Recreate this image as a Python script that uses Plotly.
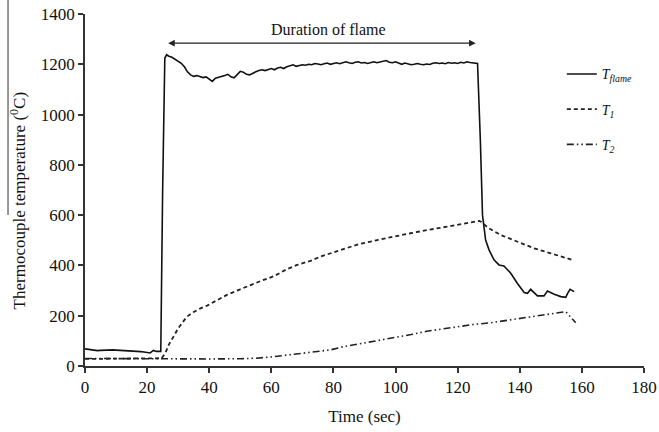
import plotly.graph_objects as go

# ---- data ----
flame_t = [0, 1, 2, 3, 4, 5, 6, 7, 8, 9, 10, 11, 12, 13, 14, 15, 16, 17, 18, 19, 20, 21, 22, 23, 24, 24.4,
           25.0, 25.7, 26.3, 27, 28, 29, 30, 31, 32, 33, 34, 35, 36, 37, 38, 39, 40, 41, 42, 43, 44, 45,
           46, 47, 48, 49, 50, 51, 52, 53, 54, 55, 56, 57, 58, 59, 60, 61, 62, 63, 64, 65, 66, 67, 68, 69,
           70, 71, 72, 73, 74, 75, 76, 77, 78, 79, 80, 81, 82, 83, 84, 85, 86, 87, 88, 89, 90, 91, 92, 93,
           94, 95, 96, 97, 98, 99, 100, 101, 102, 103, 104, 105, 106, 107, 108, 109, 110, 111, 112, 113,
           114, 115, 116, 117, 118, 119, 120, 121, 122, 123, 124, 125, 126, 126.4, 127.3, 128.0, 129.0,
           130.1, 131.7, 133.3, 134.9, 137.1, 139.2, 141.4, 142.5, 143.5, 145.7, 147.8, 148.9, 151.1,
           153.2, 154.8, 155.4, 156.2, 157.5]
flame_v = [68, 66, 65, 62, 61, 62, 63, 62, 63, 64, 63, 62, 60, 59, 58, 58, 57, 58, 57, 56, 54, 52, 62, 58, 58, 58,
           700, 1225, 1238, 1232, 1228, 1220, 1212, 1204, 1190, 1170, 1158, 1152, 1155, 1150, 1147, 1150, 1140,
           1132, 1145, 1148, 1152, 1155, 1160, 1150, 1146, 1160, 1172, 1168, 1160, 1158, 1165, 1170, 1175, 1178,
           1175, 1180, 1183, 1178, 1185, 1188, 1183, 1190, 1195, 1198, 1192, 1195, 1198, 1196, 1200, 1198,
           1203, 1201, 1198, 1202, 1205, 1200, 1203, 1206, 1202, 1205, 1210, 1206, 1203, 1208, 1210, 1205,
           1207, 1203, 1208, 1210, 1206, 1209, 1212, 1215, 1208, 1206, 1210, 1204, 1200, 1205, 1202, 1198,
           1200, 1203, 1200, 1198, 1201, 1199, 1204, 1206, 1203, 1205, 1202, 1207, 1204, 1206, 1203, 1208,
           1205, 1210, 1207, 1205, 1206, 1203, 900, 600, 501, 462, 422, 402, 398, 369, 329, 292, 289, 305,
           279, 279, 298, 285, 276, 273, 289, 305, 296]

t1_t = [0, 10, 20, 24, 24.7, 26, 27, 28.5, 30, 32.8, 35, 37, 39.3, 42, 45.7, 50, 53.2, 57, 60.8, 65, 68.3,
        72.6, 75.8, 80, 83.3, 88, 94.1, 100, 104.8, 110, 115.6, 121, 126.9, 127.5, 130, 133.9, 139, 144.6,
        150, 157]
t1_v = [28, 28, 28, 28, 31, 55, 85, 117, 150, 196, 215, 228, 240, 258, 283, 305, 322, 340, 357, 385, 402,
        418, 435, 452, 468, 484, 501, 517, 528, 540, 552, 563, 577, 574, 548, 521, 495, 468, 448, 422]

t2_t = [0, 10, 20, 24, 30, 40, 50, 55, 60, 65, 70, 75, 79, 83.3, 90, 94, 100, 105, 110, 115, 120, 125,
        130.6, 135, 140.3, 145, 150, 154.8, 158]
t2_v = [30, 29, 28, 28, 28, 28, 29, 31, 36, 43, 50, 57, 64, 77, 92, 100, 112, 125, 138, 148, 157, 165,
        172, 180, 190, 200, 208, 216, 172]

x_ticks = [0, 20, 40, 60, 80, 100, 120, 140, 160, 180]
y_ticks = [0, 200, 400, 600, 800, 1000, 1200, 1400]

series_names = ["<i>T</i><sub><i>flame</i></sub>", "<i>T</i><sub><i>1</i></sub>", "<i>T</i><sub><i>2</i></sub>"]
arrow_span = [26.3, 125.8]
arrow_level = 1284
label_text = "Duration of flame"

FONT = "Liberation Serif"

fig = go.Figure()
fig.add_trace(go.Scatter(x=flame_t, y=flame_v, mode="lines", name=series_names[0], legendgroup="a",
                         line=dict(color="#111111", width=1.6)))
fig.add_trace(go.Scatter(x=t1_t, y=t1_v, mode="lines", name=series_names[1], legendgroup="b",
                         line=dict(color="#222222", width=1.8, dash="4px,3px")))
fig.add_trace(go.Scatter(x=t2_t, y=t2_v, mode="lines", name=series_names[2], legendgroup="c",
                         line=dict(color="#222222", width=1.6, dash="7px,3px,1.5px,3px,1.5px,3px")))

fig.update_layout(
    width=659, height=432,
    margin=dict(l=85, r=15, t=14, b=66, autoexpand=False),
    paper_bgcolor="white", plot_bgcolor="white",
    font=dict(family=FONT, size=14, color="#111111"),
    showlegend=True,
    legend=dict(x=0.853, y=0.874, xanchor="left", yanchor="top", bgcolor="rgba(0,0,0,0)",
                font=dict(family=FONT, size=14), tracegroupgap=14, itemwidth=30),
)
fig.update_xaxes(range=[0, 180], tickvals=x_ticks, showgrid=False, zeroline=False, automargin=False,
                 showline=True, linecolor="#333333", linewidth=1.5, ticks="outside", ticklen=5,
                 tickcolor="#333333", tickwidth=1.5, tickfont=dict(family=FONT, size=17),
                 ticklabeloverflow="allow",
                 title=dict(text="Time (sec)", font=dict(family=FONT, size=17), standoff=14))
fig.update_yaxes(range=[0, 1400], tickvals=y_ticks, showgrid=False, zeroline=False, automargin=False,
                 showline=True, linecolor="#333333", linewidth=1.5, ticks="outside", ticklen=5,
                 tickcolor="#333333", tickwidth=1.5, tickfont=dict(family=FONT, size=17),
                 ticklabeloverflow="allow")

# y-axis title placed as rotated annotation
fig.add_annotation(text="Thermocouple temperature (<sup>0</sup>C)", xref="paper", yref="paper",
                   x=-0.1208, y=0.469, textangle=-90, showarrow=False,
                   font=dict(family=FONT, size=17, color="#111111"), xanchor="center", yanchor="middle")
# stray vertical rule at far left
fig.add_shape(type="line", xref="paper", yref="paper", x0=-0.1377, x1=-0.1377, y0=0.429, y1=1.05,
              line=dict(color="#333333", width=1))

# double-headed arrow + label
fig.add_annotation(x=arrow_span[1], y=arrow_level, ax=arrow_span[0], ay=arrow_level,
                   xref="x", yref="y", axref="x", ayref="y", text="", showarrow=True,
                   arrowhead=2, startarrowhead=2, arrowside="end+start", arrowsize=1.1,
                   arrowwidth=1.2, arrowcolor="#222222")
fig.add_annotation(x=78.5, y=1338, xref="x", yref="y", text=label_text, showarrow=False,
                   font=dict(family=FONT, size=16))

fig.write_html("out.html", config={"displayModeBar": False},
               post_script="document.body.style.margin='0';document.body.style.overflow='hidden';")
